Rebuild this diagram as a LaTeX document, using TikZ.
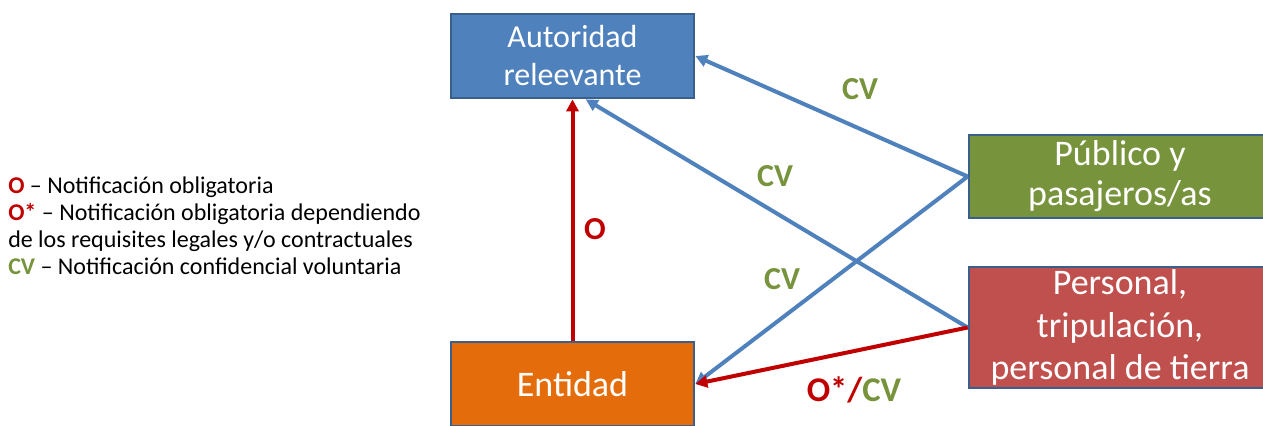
\documentclass[tikz,border=0pt]{standalone}
\usepackage{fontspec}
\setmainfont{Carlito}
\usetikzlibrary{arrows.meta}
\definecolor{BoxEdge}{HTML}{3B5F8C}
\definecolor{BoxBlue}{HTML}{4F81BD}
\definecolor{BoxOrange}{HTML}{E46C0A}
\definecolor{BoxGreen}{HTML}{77933C}
\definecolor{BoxRed}{HTML}{C0504D}
\definecolor{FlowBlue}{HTML}{4F81BD}
\definecolor{FlowRed}{HTML}{C00000}
\definecolor{TagGreen}{HTML}{77933C}

\begin{document}
\begin{tikzpicture}[x=0.75pt,y=-0.75pt,
    box/.style={draw=BoxEdge,line width=2pt,text=white,align=center,inner sep=0pt,
      font=\fontsize{27}{31}\selectfont},
    flow/.style={line width=3pt,-{Triangle[length=9pt,width=9pt]}},
    tag/.style={anchor=base,inner sep=0pt,font=\fontsize{24}{28}\selectfont\bfseries}]
    \useasboundingbox (0,0) rectangle (1263,425);

    % legend
    \node[anchor=base west,align=left,inner sep=0pt,font=\fontsize{18}{20.25}\selectfont] (key) at (8,274)
      {\textcolor{FlowRed}{\bfseries O} -- Notificación obligatoria\\
       \textcolor{FlowRed}{\bfseries O*} -- Notificación obligatoria dependiendo\\
       de los requisites legales y/o contractuales\\
       \textcolor{TagGreen}{\bfseries CV} -- Notificación confidencial voluntaria};

    % boxes
    \node[box,fill=BoxBlue,minimum width=182.25pt,minimum height=63pt,font=\fontsize{24}{28.5}\selectfont] (aut) at (572.5,56) {Autoridad\\releevante};
    \node[box,fill=BoxOrange,minimum width=182.25pt,minimum height=63pt] (ent) at (572.5,384) {Entidad};
    \node[box,fill=BoxGreen,minimum width=226.5pt,minimum height=62.25pt,font=\fontsize{27}{30}\selectfont] (pub) at (1120,176.5) {Público y\\pasajeros/as};
    \node[box,fill=BoxRed,minimum width=226.5pt,minimum height=90.75pt,font=\fontsize{27}{32}\selectfont] (per) at (1120,327.5) {Personal,\\tripulación,\\personal de tierra};

    % reports
    \draw[flow,FlowRed] (ent) -- (aut);
    \draw[flow,FlowBlue] (pub.west) -- (aut.east);
    \draw[flow,FlowBlue] (per.west) -- (aut.-73);
    \draw[flow,FlowBlue] (pub.west) -- (ent.east);
    \draw[flow,FlowRed] (per.west) -- (ent.east);

    \node[tag,text=TagGreen] (cvA) at (860,99) {CV};
    \node[tag,text=TagGreen] (cvB) at (775,186) {CV};
    \node[tag,text=TagGreen] (cvC) at (782,289) {CV};
    \node[tag,text=FlowRed] (oA) at (595,239) {O};
    \node[tag,font=\fontsize{26}{30}\selectfont\bfseries] (oB) at (854,401) {\textcolor{FlowRed}{O*/}\textcolor{TagGreen}{CV}};
\end{tikzpicture}
\end{document}
